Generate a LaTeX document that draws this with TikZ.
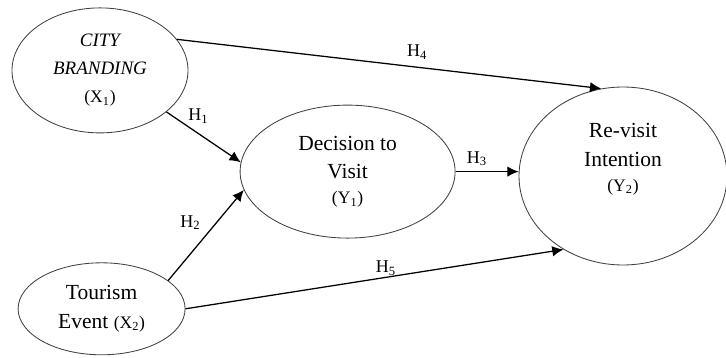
\documentclass[tikz,border=0pt]{standalone}
\usepackage{fontspec}
\setmainfont{Liberation Serif}
\usetikzlibrary{shapes.geometric}
\usetikzlibrary{arrows.meta}

\begin{document}
\begin{tikzpicture}[construct/.style={draw=black!75,line width=0.6pt,ellipse,inner sep=0pt,align=center,font=\fontsize{15.3}{20.5}\selectfont},
  hyp/.style={line width=0.9pt,-{Latex[length=8pt,width=7.5pt]}},
  hlabel/.style={inner sep=1pt,font=\fontsize{12.8}{14}\selectfont}]
  \useasboundingbox (0,0) rectangle (18.15,-8.95);

  \node[construct,minimum width=4.4cm,minimum height=3.125cm] (x1) at (2.5,-1.76)
    {{\fontsize{13.5}{20}\selectfont\itshape CITY}\\[-0.5pt]
     {\fontsize{13.5}{20}\selectfont\itshape BRANDING}\\[-0.5pt]
     {\fontsize{12.5}{15}\selectfont(X\textsubscript{1})}};
  \node[construct,minimum width=4.175cm,minimum height=2.3cm] (x2) at (2.54,-7.72)
    {Tourism\\ Event {\fontsize{12.5}{15}\selectfont(X\textsubscript{2})}};
  \node[construct,minimum width=5.375cm,minimum height=3.325cm] (y1) at (8.69,-4.29)
    {Decision to\\ Visit\\[-3pt] {\fontsize{12.5}{15}\selectfont(Y\textsubscript{1})}};
  \node[construct,minimum width=5.2cm,minimum height=4.45cm] (y2) at (15.575,-4.4)
    {Re-visit\\ Intention\\[-3pt] {\fontsize{12.5}{15}\selectfont(Y\textsubscript{2})}\\[6pt]};

  \draw[hyp] (x1.22) -- (y2.104) node[hlabel,pos=0.566,above=4pt] (h4) {H\textsubscript{4}};
  \draw[hyp] (x1.-32) -- (y1.175) node[hlabel,pos=0.43,above=6pt] (h1) {H\textsubscript{1}};
  \draw[hyp] (x2.23) -- (y1.190) node[hlabel,pos=0.64,left=10pt] (h2) {H\textsubscript{2}};
  \draw[hyp] (y1.east) -- (y1.east -| y2.west) node[hlabel,pos=0.34,above=2.5pt] (h3) {H\textsubscript{3}};
  \draw[hyp] (x2.east) -- (y2.231) node[hlabel,pos=0.53,above=0pt] (h5) {H\textsubscript{5}};
\end{tikzpicture}
\end{document}
